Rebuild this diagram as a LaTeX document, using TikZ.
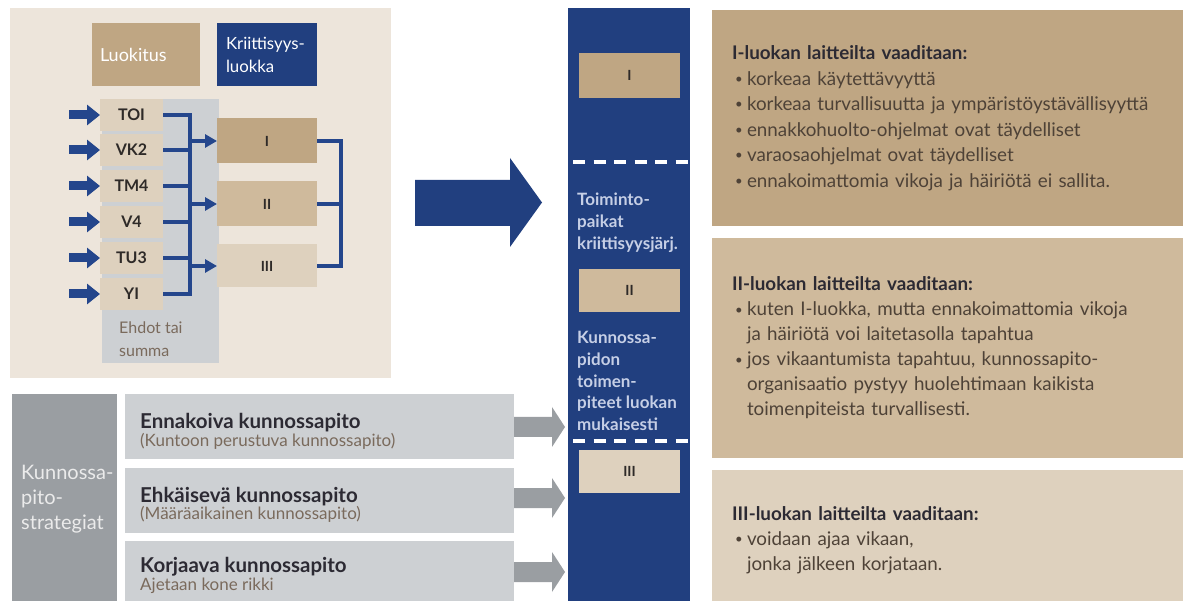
\documentclass[tikz,border=0pt]{standalone}
\usepackage{fontspec}
\setmainfont{Lato}
\usetikzlibrary{arrows.meta}

\definecolor{tanA}{HTML}{BFA683}
\definecolor{tanB}{HTML}{CFBA9C}
\definecolor{tanC}{HTML}{DED1BE}
\definecolor{panel}{HTML}{EDE5DB}
\definecolor{navy}{HTML}{213F7F}
\definecolor{linkblue}{HTML}{24468C}
\definecolor{greyL}{HTML}{CDD0D3}
\definecolor{greyD}{HTML}{9A9EA2}
\definecolor{bodytxt}{HTML}{4E4237}
\definecolor{titletxt}{HTML}{2C2A33}
\definecolor{subtxt}{HTML}{7A6A5C}
\definecolor{coltxt}{HTML}{C6CFE6}
\definecolor{labtxt}{HTML}{2E2A28}

% bullet item and continuation indent for the requirement lists
\newcommand\bitem{\hspace*{3pt}\makebox[12pt][l]{\raisebox{1.6pt}{\scalebox{0.7}{\textbullet}}}}
\newcommand\bcont{\hspace*{15pt}}

\begin{document}
\begin{tikzpicture}[x=1pt,y=-1pt,
  blk/.style={inner sep=0pt, outer sep=0pt},
  labbox/.style={blk, fill=tanC, minimum width=63pt, minimum height=32pt,
    text=labtxt, font=\fontsize{16}{18}\selectfont\bfseries},
  clsbox/.style={blk, minimum width=100pt, minimum height=45pt,
    text=labtxt, font=\fontsize{14}{16}\selectfont\bfseries},
  colbox/.style={blk, minimum width=101pt, minimum height=43pt,
    text=labtxt, font=\fontsize{14}{16}\selectfont\bfseries},
  conn/.style={draw=linkblue, line width=4.5pt},
  inarrow/.style={draw=linkblue, line width=9pt, -{Triangle[length=13pt,width=20pt]}},
  classarrow/.style={conn, -{Triangle[length=12pt,width=13pt]}},
  dashline/.style={draw=white, line width=4.5pt, dash pattern=on 12pt off 8.5pt},
  coltext/.style={anchor=west, align=left, text=coltxt, inner sep=0pt,
    font=\fontsize{17}{22}\selectfont\bfseries},
  stratbox/.style={blk, fill=greyL, minimum width=389pt, minimum height=65pt},
  strattext/.style={anchor=west, align=left, inner sep=0pt},
  reqbox/.style={blk, minimum width=471pt, text width=431pt, align=left,
    text=bodytxt, font=\fontsize{18.8}{25.5}\selectfont},
]
\useasboundingbox[fill=white] (0,0) rectangle (1189,601);

% ---- classification panel ----
\node[blk, fill=panel, minimum width=381pt, minimum height=370pt] (panel) at (200.5,193) {};
\node[blk, fill=tanA, minimum width=108pt, minimum height=63pt, text width=92pt,
  align=left, text=white, font=\fontsize{18}{22}\selectfont] (luok) at (146,54.5) {Luokitus};
\node[blk, fill=navy, minimum width=100pt, minimum height=63pt, text width=82pt,
  align=left, text=white, font=\fontsize{16.8}{23}\selectfont] (krit) at (267,54.5) {Kriittisyys-\\luokka};

\node[blk, fill=greyL, minimum width=117pt, minimum height=264pt] (ehdot) at (160.5,231) {};
\node[anchor=west, align=left, inner sep=0pt, text=subtxt,
  font=\fontsize{16}{23}\selectfont] (ehdotlbl) at (119,339.5) {Ehdot tai\\summa};

\coordinate (busx) at (190,0);
\foreach \n/\t/\y in {toi/TOI/115, vk/VK2/150, tm/TM4/186, v/V4/222, tu/TU3/258, yi/YI/294}{
  \node[labbox] (\n) at (131.5,\y) {\t};
  \coordinate (\n-in) at (69,\y);
  \draw[inarrow] (\n-in) -- (\n.west);
  \draw[conn] (\n.east) -- (\n.east -| busx);
}
\draw[conn, line cap=rect] (toi.east -| busx) -- (yi.east -| busx);

\node[clsbox, fill=tanA] (c1) at (267,141) {I};
\node[clsbox, fill=tanB] (c2) at (267,204) {II};
\node[clsbox, fill=tanC, minimum height=43pt] (c3) at (267,266) {III};
\foreach \c in {c1,c2,c3}
  \draw[classarrow] (\c.west -| busx) -- (\c.west);

\coordinate (brk) at (341,0);
\draw[conn, line join=miter] (c1.east) -- (c1.east -| brk) -- (c3.east -| brk) -- (c3.east);
\draw[conn] (c2.east) -- (c2.east -| brk);

% ---- big arrow into the criticality column ----
\fill[navy] (415,180) -- (510,180) -- (510,158) -- (542,202.5) -- (510,247)
  -- (510,226) -- (415,226) -- cycle;

% ---- criticality column ----
\node[blk, fill=navy, minimum width=122pt, minimum height=600pt] (col) at (629,308) {};
\node[colbox, fill=tanA, minimum height=45pt] (k1) at (629.5,75.5) {I};
\node[colbox, fill=tanB] (k2) at (629.5,290.5) {II};
\node[colbox, fill=tanC] (k3) at (629.5,471.5) {III};
\coordinate (d1a) at (573,162); \coordinate (d1b) at (688,162);
\coordinate (d2a) at (573,441); \coordinate (d2b) at (688,441);
\draw[dashline] (d1a) -- (d1b);
\draw[dashline] (d2a) -- (d2b);
\node[coltext] (ct1) at (577,223) {Toiminto-\\paikat\\kriittisyysjärj.};
\node[coltext, font=\fontsize{17}{21.7}\selectfont\bfseries] (ct2) at (577,381)
  {Kunnossa-\\pidon\\toimen-\\piteet luokan\\mukaisesti};

% ---- maintenance strategies ----
\node[blk, fill=greyD, minimum width=105pt, minimum height=214pt] (strat) at (64.5,501) {};
\node[anchor=west, align=left, inner sep=0pt, text=white!92!black,
  font=\fontsize{20}{25}\selectfont] (stratlbl) at (21,499) {Kunnossa-\\pito-\\strategiat};

\node[stratbox] (s1) at (319.5,426.5) {};
\node[stratbox] (s2) at (319.5,500.5) {};
\node[stratbox] (s3) at (319.5,573.5) {};
\node[strattext] (s1t) at (140,431.5)
  {{\color{titletxt}\fontsize{20.5}{23}\selectfont\bfseries Ennakoiva kunnossapito}\\
   {\color{subtxt}\fontsize{17}{23}\selectfont (Kuntoon perustuva kunnossapito)}};
\node[strattext] (s2t) at (140,505)
  {{\color{titletxt}\fontsize{20.5}{23}\selectfont\bfseries Ehkäisevä kunnossapito}\\
   {\color{subtxt}\fontsize{17}{23}\selectfont (Määräaikainen kunnossapito)}};
\node[strattext] (s3t) at (140,575.5)
  {{\color{titletxt}\fontsize{20.5}{23}\selectfont\bfseries Korjaava kunnossapito}\\
   {\color{subtxt}\fontsize{17}{23}\selectfont Ajetaan kone rikki}};
\foreach \s/\dy in {s1/0.5, s2/-2.5, s3/-1.5}
  \fill[greyD] (\s.east) ++(0,\dy) ++(0,-10) -- ++(38,0) -- ++(0,-10) -- ++(13,20)
    -- ++(-13,20) -- ++(0,-10) -- ++(-38,0) -- cycle;

% ---- requirements per class ----
\node[reqbox, fill=tanA, minimum height=216pt] (r1) at (947.5,118)
  {{\color{titletxt}\bfseries I-luokan laitteilta vaaditaan:}\\
   \bitem korkeaa käytettävyyttä\\
   \bitem korkeaa turvallisuutta ja ympäristöystävällisyyttä\\
   \bitem ennakkohuolto-ohjelmat ovat täydelliset\\
   \bitem varaosaohjelmat ovat täydelliset\\
   \bitem ennakoimattomia vikoja ja häiriötä ei sallita.};
\node[reqbox, fill=tanB, minimum height=220pt, font=\fontsize{18.8}{25}\selectfont] (r2) at (947.5,348)
  {{\color{titletxt}\bfseries II-luokan laitteilta vaaditaan:}\\
   \bitem kuten I-luokka, mutta ennakoimattomia vikoja\\
   \bcont ja häiriötä voi laitetasolla tapahtua\\
   \bitem jos vikaantumista tapahtuu, kunnossapito-\\
   \bcont organisaatio pystyy huolehtimaan kaikista\\
   \bcont toimenpiteista turvallisesti.};
\node[reqbox, fill=tanC, minimum height=140pt, font=\fontsize{18.8}{25}\selectfont] (r3) at (947.5,540)
  {{\color{titletxt}\bfseries III-luokan laitteilta vaaditaan:}\\
   \bitem voidaan ajaa vikaan,\\
   \bcont jonka jälkeen korjataan.};
\end{tikzpicture}
\end{document}
